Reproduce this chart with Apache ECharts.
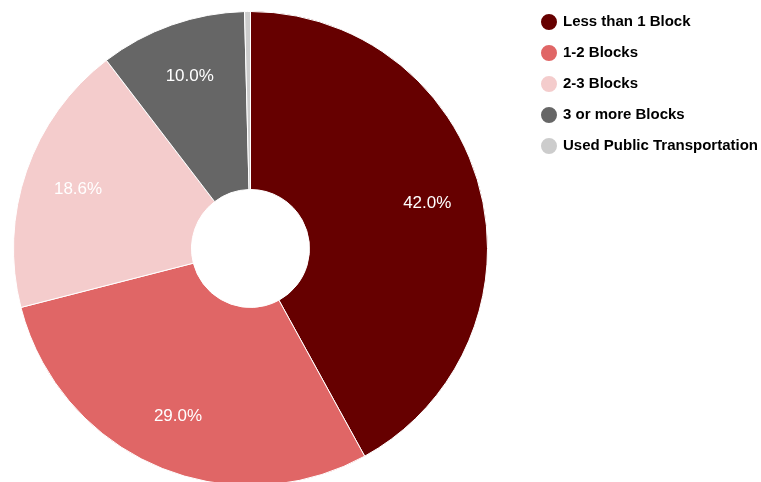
<!DOCTYPE html>
<html><head><meta charset="utf-8">
<script src="https://cdn.jsdelivr.net/npm/echarts@6/dist/echarts.min.js"></script>
<style>html,body{margin:0;padding:0;background:#fff}#c{width:761px;height:482px}</style>
</head><body><div id="c"></div>
<script>
const categories = ['Less than 1 Block','1-2 Blocks','2-3 Blocks','3 or more Blocks','Used Public Transportation'];
const values = [42.0, 29.0, 18.6, 10.0, 0.4];
const colors = ['#660000','#e06666','#f4cccc','#666666','#cccccc'];
const data = categories.map((n,i)=>({name:n,value:values[i],itemStyle:{color:colors[i]}}));
const chart = echarts.init(document.getElementById('c'));
chart.setOption({
  animation:false,
  legend:{orient:'vertical',left:534,top:7,icon:'circle',itemWidth:18,itemHeight:18,itemGap:11,
    textStyle:{fontFamily:'Liberation Sans, Arial',fontWeight:'bold',fontSize:15,color:'#000',padding:[0,0,0,0]},
    data:categories},
  series:[
    {type:'pie',center:[250.5,248.5],radius:[59,237],startAngle:90,clockwise:true,
     itemStyle:{borderColor:'#fff',borderWidth:1},label:{show:false},labelLine:{show:false},
     data:data,silent:true},
    {type:'pie',center:[250.5,248.5],radius:[122,237],startAngle:90,clockwise:true,
     itemStyle:{color:'transparent',borderWidth:0},labelLine:{show:false},silent:true,
     label:{show:true,position:'inside',color:'#fff',fontSize:17,fontFamily:'Liberation Sans, Arial',
       formatter:p=>p.value>=1?p.value.toFixed(1)+'%':''},
     data:categories.map((n,i)=>({name:n,value:values[i]})),legendHoverLink:false}
  ]
});
</script></body></html>
